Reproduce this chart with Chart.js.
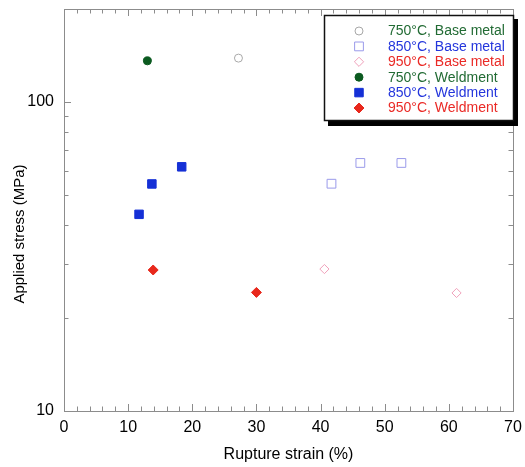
<!DOCTYPE html>
<html>
<head>
<meta charset="utf-8">
<script src="https://cdn.jsdelivr.net/npm/chart.js@4.4.1/dist/chart.umd.min.js"></script>
<style>
  html, body { margin: 0; padding: 0; background: #fff; }
</style>
</head>
<body>
<canvas id="myChart" width="525" height="467"></canvas>
<script>
// series names
const seriesNames = [
  '750°C, Base metal', '850°C, Base metal', '950°C, Base metal',
  '750°C, Weldment', '850°C, Weldment', '950°C, Weldment'
];

// rupture strain (%) / applied stress (MPa)
const strain750Base = [27.2];
const stress750Base = [138.7];
const strain850Base = [41.7, 46.2, 52.6];
const stress850Base = [54.4, 63.5, 63.5];
const strain950Base = [40.6, 61.2];
const stress950Base = [28.8, 24.1];
const strain750Weld = [13.0];
const stress750Weld = [135.9];
const strain850Weld = [11.7, 13.7, 18.35];
const stress850Weld = [43.3, 54.3, 61.7];
const strain950Weld = [13.9, 30.0];
const stress950Weld = [28.6, 24.2];

const xTickLabels = [0, 10, 20, 30, 40, 50, 60, 70];
const yTickLabels = [10, 100];

const toPoints = (xs, ys) => xs.map((x, i) => ({ x: x, y: ys[i] }));

const styles = [
  { pointStyle: 'circle', pointRadius: 4, borderColor: '#a8a8a8', backgroundColor: 'rgba(0,0,0,0)', text: '#226b34' },
  { pointStyle: 'rect', pointRadius: 6.2, borderColor: '#9a9aea', backgroundColor: 'rgba(0,0,0,0)', text: '#2436dc' },
  { pointStyle: 'rectRot', pointRadius: 4.6, borderColor: '#f0a0ba', backgroundColor: 'rgba(0,0,0,0)', text: '#ea2a26' },
  { pointStyle: 'circle', pointRadius: 4, borderColor: '#0b5a20', backgroundColor: '#0b5a20', text: '#226b34' },
  { pointStyle: 'rect', pointRadius: 6, borderColor: '#1530d6', backgroundColor: '#1530d6', text: '#2436dc' },
  { pointStyle: 'rectRot', pointRadius: 5, borderColor: '#e8281c', backgroundColor: '#e8281c', text: '#ea2a26' }
];

const allData = [
  toPoints(strain750Base, stress750Base),
  toPoints(strain850Base, stress850Base),
  toPoints(strain950Base, stress950Base),
  toPoints(strain750Weld, stress750Weld),
  toPoints(strain850Weld, stress850Weld),
  toPoints(strain950Weld, stress950Weld)
];

Chart.defaults.font.family = '"Liberation Sans", Arial, sans-serif';
Chart.defaults.color = '#000';

function drawMarker(ctx, st, x, y) {
  const r = st.pointRadius;
  ctx.beginPath();
  if (st.pointStyle === 'circle') {
    ctx.arc(x, y, r, 0, Math.PI * 2);
  } else if (st.pointStyle === 'rect') {
    const s = r * Math.SQRT1_2;
    ctx.rect(x - s, y - s, 2 * s, 2 * s);
  } else {
    ctx.moveTo(x - r, y);
    ctx.lineTo(x, y - r);
    ctx.lineTo(x + r, y);
    ctx.lineTo(x, y + r);
    ctx.closePath();
  }
  ctx.fillStyle = st.backgroundColor;
  ctx.strokeStyle = st.borderColor;
  ctx.lineWidth = 1;
  ctx.fill();
  ctx.stroke();
}

// no extra label padding, the chart area is fixed by layout padding
const noPad = s => {
  s.paddingTop = 0; s.paddingBottom = 0;
  s.paddingLeft = 0; s.paddingRight = 0;
};

// frame with inward ticks on all four sides
const framePlugin = {
  id: 'frame',
  beforeDatasetsDraw(chart) {
    const ctx = chart.ctx;
    const a = chart.chartArea;
    const xs = chart.scales.x, ys = chart.scales.y;
    ctx.save();
    ctx.strokeStyle = '#8c8c8c';
    ctx.lineWidth = 1;
    ctx.strokeRect(Math.round(a.left) + 0.5, Math.round(a.top) + 0.5,
      Math.round(a.right - a.left), Math.round(a.bottom - a.top));
    ctx.beginPath();
    for (let v = 2; v < 70; v += 2) {
      const len = v % 10 === 0 ? 7 : 4.5;
      const px = Math.round(xs.getPixelForValue(v)) + 0.5;
      ctx.moveTo(px, a.bottom); ctx.lineTo(px, a.bottom - len);
      ctx.moveTo(px, a.top); ctx.lineTo(px, a.top + len);
    }
    const yMinor = [20, 30, 40, 50, 60, 70, 80, 90, 100];
    yMinor.forEach(v => {
      const len = v === 100 ? 7 : 4.5;
      const py = Math.round(ys.getPixelForValue(v)) + 0.5;
      ctx.moveTo(a.left, py); ctx.lineTo(a.left + len, py);
      ctx.moveTo(a.right, py); ctx.lineTo(a.right - len, py);
    });
    ctx.stroke();
    ctx.restore();
  },
  afterDraw(chart) {
    const ctx = chart.ctx;
    ctx.save();
    // y axis title
    ctx.translate(20, 234);
    ctx.rotate(-Math.PI / 2);
    ctx.font = '15px "Liberation Sans", Arial, sans-serif';
    ctx.fillStyle = '#000';
    ctx.textAlign = 'center';
    ctx.textBaseline = 'middle';
    ctx.fillText('Applied stress (MPa)', 0, 0);
    ctx.restore();

    // legend box with drop shadow
    ctx.save();
    ctx.fillStyle = '#000';
    ctx.fillRect(328, 19, 190, 107);
    ctx.fillStyle = '#fff';
    ctx.fillRect(324, 15, 190, 106);
    ctx.strokeStyle = '#111';
    ctx.lineWidth = 1.5;
    ctx.strokeRect(324.5, 15.5, 189, 105);
    ctx.font = '14px "Liberation Sans", Arial, sans-serif';
    ctx.textBaseline = 'middle';
    ctx.textAlign = 'left';
    seriesNames.forEach((name, i) => {
      const y = 31 + i * 15.4;
      drawMarker(ctx, styles[i], 359, y);
      ctx.fillStyle = styles[i].text;
      ctx.fillText(name, 388, y + 0.5);
    });
    ctx.restore();
  }
};

const ctx = document.getElementById('myChart');
new Chart(ctx, {
  type: 'scatter',
  data: {
    datasets: allData.map((d, i) => ({
      label: seriesNames[i],
      data: d,
      pointStyle: styles[i].pointStyle,
      pointRadius: styles[i].pointRadius,
      pointBorderWidth: 1,
      borderColor: styles[i].borderColor,
      backgroundColor: styles[i].backgroundColor
    }))
  },
  options: {
    responsive: false,
    animation: false,
    events: [],
    layout: { padding: { top: 9, right: 12, left: 0, bottom: 0 } },
    plugins: { legend: { display: false }, tooltip: { enabled: false } },
    scales: {
      x: {
        type: 'linear',
        min: 0,
        max: 70,
        afterBuildTicks: s => { s.ticks = xTickLabels.map(v => ({ value: v })); },
        afterFit: s => { s.height = 56; noPad(s); },
        grid: { display: false, drawTicks: false },
        border: { display: false },
        ticks: { font: { size: 16 }, padding: 7, maxRotation: 0 },
        title: { display: true, text: 'Rupture strain (%)', font: { size: 16 }, padding: { top: 0, bottom: 3 } }
      },
      y: {
        type: 'logarithmic',
        min: 10,
        max: 200,
        afterBuildTicks: s => { s.ticks = yTickLabels.map(v => ({ value: v })); },
        afterFit: s => { s.width = 64; noPad(s); },
        grid: { display: false, drawTicks: false },
        border: { display: false },
        ticks: { font: { size: 16 }, padding: 10, callback: v => String(v) }
      }
    }
  },
  plugins: [framePlugin]
});
</script>
</body>
</html>
